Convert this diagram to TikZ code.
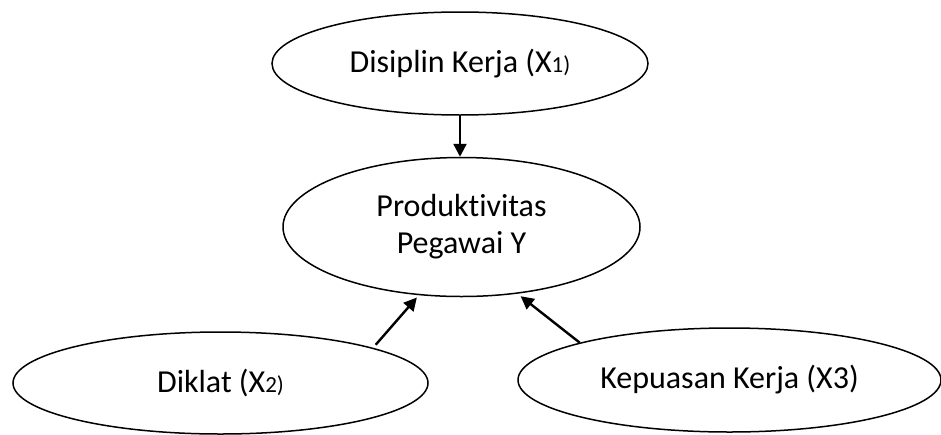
\documentclass[tikz,border=0pt]{standalone}
\usepackage{fontspec}
\setmainfont{Carlito}[Ligatures={NoCommon}]
\usetikzlibrary{shapes.geometric,arrows.meta}
\newcommand{\smallsub}[1]{{\fontsize{23}{28}\selectfont #1}}
\begin{document}
\begin{tikzpicture}[x=1pt,y=-1pt,
  oval/.style={ellipse,draw,line width=1.5pt,inner sep=0pt,align=center,
    font=\fontsize{32}{37}\selectfont},
  arr/.style={line width=2.4pt,-{Triangle[length=13pt,width=13pt]}}]
\useasboundingbox (0,0) rectangle (941,434);
\clip (0,0) rectangle (941,434);
\node[oval,minimum width=376pt,minimum height=103pt] (dk) at (460,63.5) {Disiplin Kerja (X\smallsub{1)}};
\node[oval,minimum width=357pt,minimum height=139pt] (py) at (461.5,227) {Produktivitas\\Pegawai Y};
\node[oval,minimum width=415pt,minimum height=102pt] (dl) at (220.5,383) {Diklat (X\smallsub{2)}};
\node[oval,minimum width=423pt,minimum height=104pt] (kk) at (729.5,380) {Kepuasan Kerja (X3)};
\draw[arr] (dk.south) -- (dk.south |- py.north);
\draw[arr,shorten <=4pt,shorten >=3pt] (dl.13) -- (py.238);
\draw[arr,shorten >=4pt] (kk.166) -- (py.310);
\end{tikzpicture}
\end{document}
